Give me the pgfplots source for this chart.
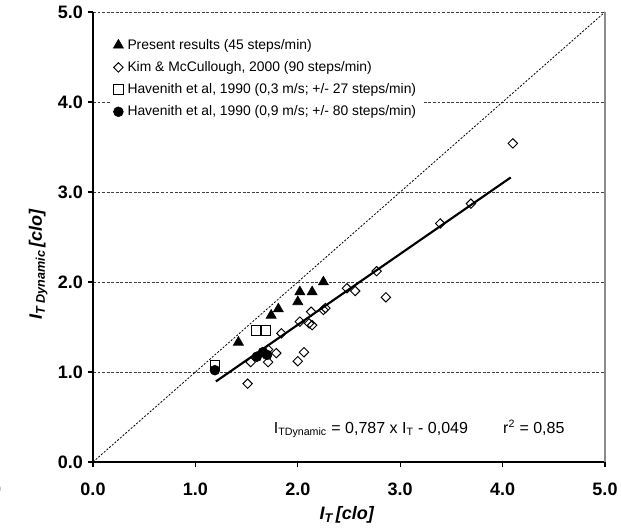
\documentclass[border=0pt]{standalone}
\usepackage{fontspec}
\setmainfont{Liberation Sans}
\usepackage{pgfplots}
\pgfplotsset{compat=1.18}
\begin{document}
\begin{tikzpicture}
\useasboundingbox (-69.75pt,-50.25pt) rectangle (396pt,346.5pt);
\begin{axis}[
  at={(0pt,0pt)}, anchor=south west,
  scale only axis, width=384pt, height=337.5pt,
  xmin=0, xmax=5, ymin=0, ymax=5,
  axis x line*=bottom, axis y line*=left,
  axis line style={black, line width=0.9pt},
  xtick={0,1,2,3,4,5}, ytick={0,1,2,3,4,5},
  tick align=outside, major tick length=4pt,
  tick style={black, line width=0.8pt},
  /pgf/number format/assume math mode=true,
  /pgf/number format/.cd, fixed, fixed zerofill, precision=1, /pgfplots/.cd,
  ticklabel style={font=\fontsize{13.5}{15}\selectfont\bfseries},
  xticklabel style={yshift=-8pt},
  ymajorgrids,
  major grid style={black!75, dash pattern=on 2.2pt off 1.2pt, line width=0.6pt},
  xlabel={\textbf{\textit{I\textsubscript{T}\,[clo]}}},
  ylabel={\textbf{\textit{I\textsubscript{T Dynamic}\,[clo]}}},
  every axis x label/.style={at={(axis description cs:0.496,-0.118)}, anchor=center, font=\fontsize{13.5}{15}\selectfont},
  every axis y label/.style={at={(axis description cs:-0.107,0.44)}, anchor=center, rotate=90, font=\fontsize{13.5}{15}\selectfont},
  legend style={at={(axis description cs:0.034,0.952)}, anchor=north west,
    draw=none, fill=white, font=\fontsize{10.4}{12}\selectfont,
    row sep=3.6pt, inner sep=2pt, legend cell align=left,
    nodes={inner xsep=3pt}},
  clip=false,
]
\addplot[black, only marks, mark=triangle*, mark size=4.4pt] coordinates {
 (1.42,1.33) (1.74,1.63) (1.81,1.70) (2.00,1.78) (2.02,1.89) (2.14,1.89) (2.25,2.00)};
\addlegendentry{Present results (45 steps/min)}
\addplot[black, only marks, mark=square, mark size=2.5pt, mark options={rotate=45, fill=white, line width=0.7pt}] coordinates {
 (1.51,0.87) (1.54,1.11) (1.71,1.11) (1.71,1.25) (1.79,1.21) (1.84,1.43)
 (2.00,1.12) (2.06,1.22) (2.02,1.56) (2.11,1.54) (2.14,1.52) (2.13,1.67)
 (2.25,1.69) (2.27,1.71) (2.48,1.93) (2.56,1.90) (2.77,2.12) (2.86,1.83)
 (3.39,2.65) (3.69,2.87) (4.10,3.54)};
\addlegendentry{Kim \& McCullough, 2000 (90 steps/min)}
\addplot[black, only marks, mark=square, mark size=3.6pt, mark options={fill=white, line width=0.7pt}] coordinates {
 (1.19,1.07) (1.59,1.46) (1.69,1.46)};
\addlegendentry{Havenith et al, 1990 (0,3 m/s; +/- 27 steps/min)}
\addplot[black, only marks, mark=*, mark size=3.7pt] coordinates {
 (1.19,1.02) (1.60,1.17) (1.66,1.22) (1.70,1.19)};
\addlegendentry{Havenith et al, 1990 (0,9 m/s; +/- 80 steps/min)}
\addplot[black, line width=0.6pt, dash pattern=on 1.5pt off 1.2pt, forget plot] coordinates {(0,0) (5,5)};
\addplot[black, line width=1.6pt, forget plot] coordinates {(1.20,0.895) (4.08,3.162)};
\draw[black!45, line width=0.8pt] (rel axis cs:1,0) -- (rel axis cs:1,1);
\node[anchor=west, font=\fontsize{12}{14}\selectfont] at (axis cs:1.72,0.37)
  {I\textsubscript{TDynamic} = 0,787 x I\textsubscript{T} - 0,049\hspace{2.2em}r\textsuperscript{2} = 0,85};
\node[anchor=east, font=\fontsize{13.5}{15}\selectfont\bfseries] at (axis cs:-0.85,-0.30) {0.0};
\end{axis}
\end{tikzpicture}
\end{document}
